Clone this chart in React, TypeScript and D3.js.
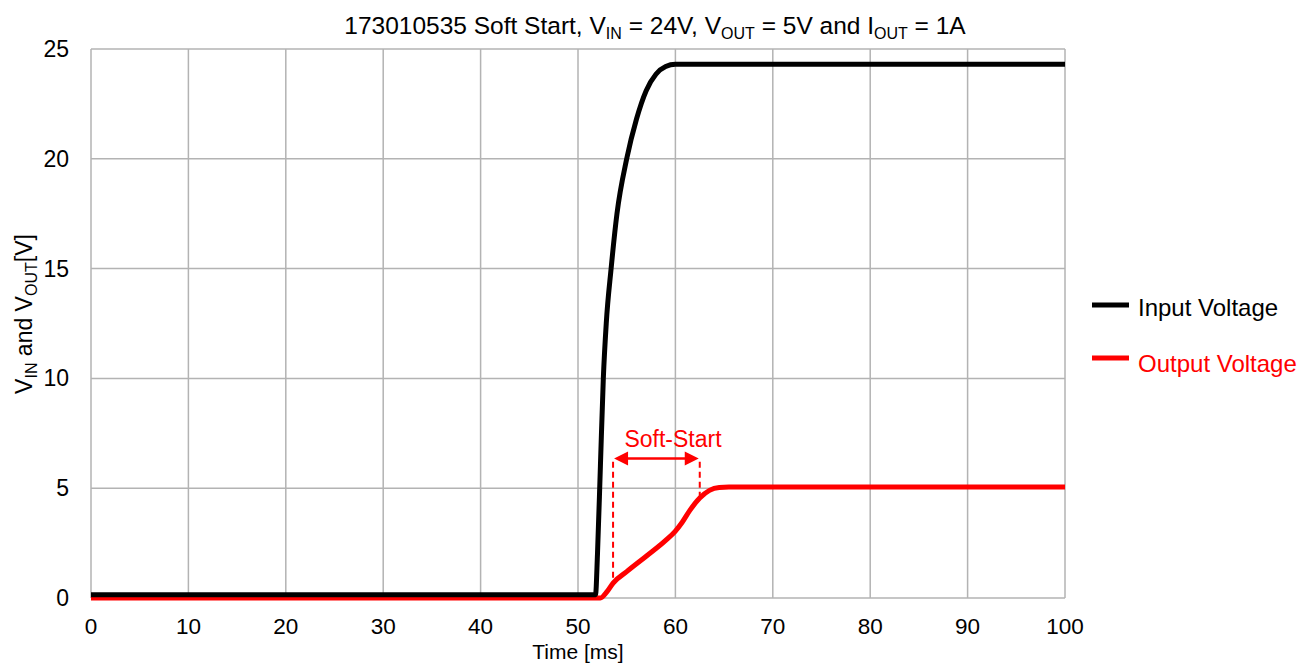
import React from "react";
import * as d3 from "d3";

const xTicks = [0, 10, 20, 30, 40, 50, 60, 70, 80, 90, 100];
const yTicks = [0, 5, 10, 15, 20, 25];

const inputTime = [0, 51.8, 52.0, 52.3, 52.6, 52.9, 53.4, 54.0, 55.0, 56.0, 57.0, 58.0, 59.0, 60.0, 70, 80, 90, 100];
const inputVolt = [0.15, 0.15, 2, 6, 10, 12.5, 15, 17.5, 20, 21.8, 23.1, 23.85, 24.2, 24.3, 24.3, 24.3, 24.3, 24.3];

const outputTime = [0, 52.3, 53.0, 53.6, 55, 57, 59, 60, 60.7, 61.5, 62.5, 63.5, 64.5, 65.5, 70, 80, 90, 100];
const outputVolt = [0, 0, 0.3, 0.68, 1.2, 1.9, 2.62, 3.05, 3.45, 4.0, 4.55, 4.9, 5.03, 5.05, 5.05, 5.05, 5.05, 5.05];

const softStartBegin = 53.6;
const softStartEnd = 62.5;
const softStartArrowV = 6.35;

const FONT = "Liberation Sans, Arial, sans-serif";

export default function App() {
  const W = 1314, H = 664;
  const x = d3.scaleLinear().domain([0, 100]).range([91, 1065]);
  const y = d3.scaleLinear().domain([0, 25]).range([598, 49]);

  const line = d3.line<[number, number]>().x(d => x(d[0])).y(d => y(d[1])).curve(d3.curveMonotoneX);
  const inPts = inputTime.map((t, i) => [t, inputVolt[i]] as [number, number]);
  const outPts = outputTime.map((t, i) => [t, outputVolt[i]] as [number, number]);

  const outAt = (t: number) => {
    const i = d3.bisectLeft(outputTime, t);
    if (i <= 0) return outputVolt[0];
    const t0 = outputTime[i - 1], t1 = outputTime[i];
    return outputVolt[i - 1] + (outputVolt[i] - outputVolt[i - 1]) * (t - t0) / (t1 - t0);
  };

  const red = "#ff0000";
  const grid = "#b3b3b3";
  const ay = y(softStartArrowV);
  const dashTop = y(6.2);
  const sub = 16;

  return (
    <svg width={W} height={H} style={{ position: "absolute", left: 0, top: 0, background: "#fff" }} fontFamily={FONT}>
      {xTicks.map(t => (
        <line key={"gx" + t} x1={x(t)} x2={x(t)} y1={y(25)} y2={y(0)} stroke={grid} strokeWidth={1.5} />
      ))}
      {yTicks.map(t => (
        <line key={"gy" + t} x1={x(0)} x2={x(100)} y1={y(t)} y2={y(t)} stroke={grid} strokeWidth={1.5} />
      ))}
      {xTicks.map(t => (
        <text key={"tx" + t} x={x(t)} y={634} textAnchor="middle" fontSize={22.5} fill="#000">{t}</text>
      ))}
      {yTicks.map(t => (
        <text key={"ty" + t} x={69} y={y(t) + 8} textAnchor="end" fontSize={23} fill="#000">{t}</text>
      ))}
      <text x={578} y={659} textAnchor="middle" fontSize={21} fill="#000">Time [ms]</text>
      <g transform="translate(32,314) rotate(-90)">
        <text x={0} y={0} textAnchor="middle" fontSize={23} fill="#000">
          V<tspan dy={5} fontSize={sub}>IN</tspan><tspan dy={-5}> and V</tspan><tspan dy={5} fontSize={sub}>OUT</tspan><tspan dy={-5}>[V]</tspan>
        </text>
      </g>
      <text x={655} y={34} textAnchor="middle" fontSize={24.5} fill="#000">
        173010535 Soft Start, V<tspan dy={5} fontSize={sub}>IN</tspan><tspan dy={-5}> = 24V, V</tspan><tspan dy={5} fontSize={sub}>OUT</tspan><tspan dy={-5}> = 5V and I</tspan><tspan dy={5} fontSize={sub}>OUT</tspan><tspan dy={-5}> = 1A</tspan>
      </text>

      <path d={line(outPts) || ""} fill="none" stroke={red} strokeWidth={5} strokeLinejoin="round" />
      <path d={line(inPts) || ""} fill="none" stroke="#000" strokeWidth={5} strokeLinejoin="round" />

      {/* Soft-start annotation */}
      <line x1={x(softStartBegin)} x2={x(softStartBegin)} y1={dashTop} y2={y(outAt(softStartBegin))} stroke={red} strokeWidth={2} strokeDasharray="6,4" />
      <line x1={x(softStartEnd)} x2={x(softStartEnd)} y1={dashTop} y2={y(outAt(softStartEnd))} stroke={red} strokeWidth={2} strokeDasharray="6,4" />
      <line x1={x(softStartBegin) + 10} x2={x(softStartEnd) - 10} y1={ay} y2={ay} stroke={red} strokeWidth={2.5} />
      <path d={`M${x(softStartBegin) + 1},${ay} l14,-7 l0,14 z`} fill={red} />
      <path d={`M${x(softStartEnd) - 1},${ay} l-14,-7 l0,14 z`} fill={red} />
      <text x={673} y={447} textAnchor="middle" fontSize={23} fill={red}>Soft-Start</text>

      {/* Legend */}
      <line x1={1092} x2={1129} y1={305} y2={305} stroke="#000" strokeWidth={5} />
      <text x={1138} y={316} fontSize={24} fill="#000">Input Voltage</text>
      <line x1={1092} x2={1129} y1={358} y2={358} stroke={red} strokeWidth={5} />
      <text x={1138} y={372} fontSize={24} fill={red}>Output Voltage</text>
    </svg>
  );
}
